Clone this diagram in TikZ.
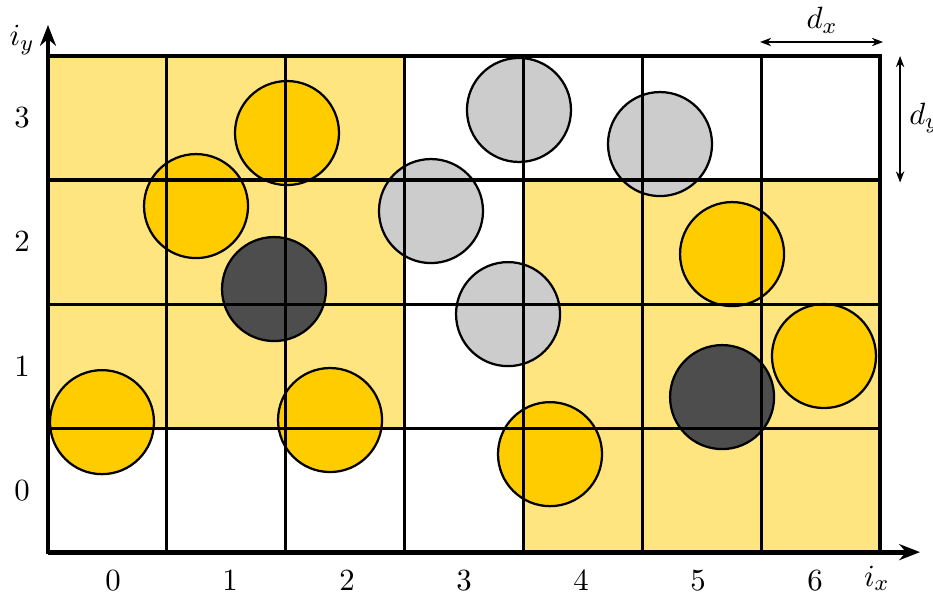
\documentclass[tikz,border=0pt]{standalone}
\usepackage{tikz}
\usetikzlibrary{arrows.meta}
\definecolor{cellShade}{HTML}{FFE580}
\definecolor{ballGold}{HTML}{FFCC00}
\definecolor{ballGrey}{HTML}{CCCCCC}
\definecolor{ballDark}{HTML}{4D4D4D}

\begin{document}
\begin{tikzpicture}[
    x=1.486cm, y=1.55cm,
    font=\fontsize{11}{13}\selectfont,
    shade/.style={fill=cellShade},
    ball/.style={draw=black, line width=0.8pt},
    gold/.style={ball, fill=ballGold},
    grey/.style={ball, fill=ballGrey},
    dark/.style={ball, fill=ballDark},
    gridline/.style={draw=black, line width=1.1pt},
    frame/.style={draw=black, line width=1.4pt},
    axis/.style={draw=black, line width=1.7pt, -{Stealth[length=2.6mm, width=2mm]}},
    span/.style={draw=black, line width=0.5pt, {Stealth[length=1.4mm]}-{Stealth[length=1.4mm]}},
    tick/.style={inner sep=1pt}
]
\useasboundingbox (-0.4037,-0.3629) rectangle (7.443,4.4516);

% Shaded cells
\fill[shade] (0,1) rectangle (3,4);
\fill[shade] (4,0) rectangle (7,3);

% Particles
\foreach \x/\y in {0.454/1.048, 2.010/3.379, 1.245/2.790, 2.372/1.065,
                   4.222/0.790, 5.753/2.403, 6.526/1.581} {
    \draw[gold] (\x,\y) circle [radius=0.65cm];
}
\foreach \x/\y in {3.961/3.565, 5.147/3.290, 3.221/2.750, 3.869/1.919} {
    \draw[grey] (\x,\y) circle [radius=0.65cm];
}
\foreach \x/\y in {1.901/2.121, 5.669/1.250} {
    \draw[dark] (\x,\y) circle [radius=0.65cm];
}

% Cell grid
\foreach \i in {1,...,6} {
    \draw[gridline] (\i,0) -- (\i,4);
}
\foreach \j in {1,2,3} {
    \draw[gridline] (0,\j) -- (7,\j);
}
\draw[frame] (0,0) rectangle (7,4);

% Axes
\coordinate (origin) at (0,0);
\coordinate (xend) at (7.334,0);
\coordinate (yend) at (0,4.25);
\draw[axis] (origin) -- (xend);
\draw[axis] (origin) -- (yend);

% Index labels
\foreach \i in {0,...,6} {
    \node[tick] (ix\i) at ({0.547+0.984*\i},-0.226) {$\i$};
}
\foreach \j in {0,...,3} {
    \node[tick] (iy\j) at (-0.219,\j+0.5) {$\j$};
}
\node[tick] (ixlabel) at (6.97,-0.21) {$i_x$};
\node[tick] (iylabel) at (-0.219,4.13) {$i_y$};

% Cell size
\coordinate (dxa) at (5.988,4.113);
\coordinate (dxb) at (7.023,4.113);
\draw[span] (dxa) -- (dxb);
\node[tick] (dx) at (6.51,4.29) {$d_x$};

\coordinate (dya) at (7.166,4.0);
\coordinate (dyb) at (7.166,2.98);
\draw[span] (dya) -- (dyb);
\node[tick, anchor=west] (dy) at (7.215,3.5) {$d_y$};
\end{tikzpicture}
\end{document}
